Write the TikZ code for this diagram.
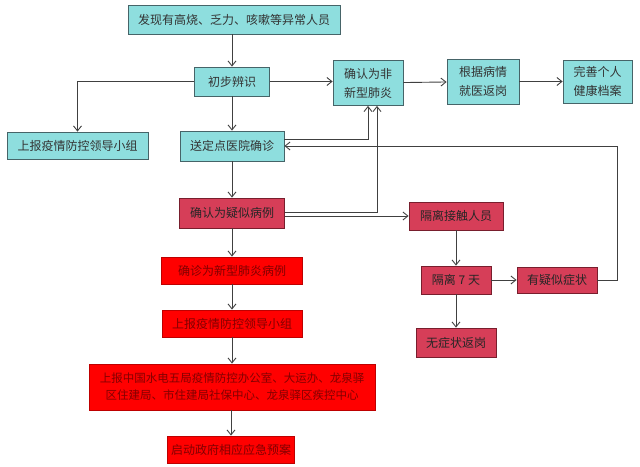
\documentclass[tikz,border=0pt]{standalone}
\usepackage{fontspec}
\newfontfamily\cjk{Noto Sans CJK SC}
\usetikzlibrary{arrows.meta}
\definecolor{cyanfill}{RGB}{142,222,222}
\definecolor{cyanline}{RGB}{70,100,104}
\definecolor{pinkfill}{RGB}{214,62,88}
\definecolor{pinkline}{RGB}{120,30,45}
\definecolor{redfill}{RGB}{255,0,0}
\definecolor{redline}{RGB}{190,0,0}
\definecolor{redtext}{RGB}{130,0,0}
\definecolor{arrowgray}{RGB}{64,64,64}

\begin{document}
\begin{tikzpicture}[x=1pt, y=-1pt,
  box/.style={draw=cyanline, fill=cyanfill, line width=0.8pt, inner sep=0pt,
    align=center, text=black!80, font=\cjk\fontsize{12}{19}\selectfont},
  pbox/.style={box, draw=pinkline, fill=pinkfill, text=black!85},
  rbox/.style={box, draw=redline, fill=redfill, text=redtext},
  arr/.style={-{Straight Barb[length=5pt,width=8pt]}, line width=0.9pt, draw=arrowgray}
]
  \useasboundingbox (0,0) rectangle (640,466);
  % top part
  \node[box, minimum width=212pt, minimum height=29pt] (found) at (234,19.5)
    {发现有高烧、乏力、咳嗽等异常人员};
  \node[box, minimum width=75pt, minimum height=29pt] (initial) at (232,81.5)
    {初步辨识};
  \node[box, minimum width=70pt, minimum height=45pt] (nonpneu) at (368,83)
    {确认为非\\新型肺炎};
  \node[box, minimum width=72pt, minimum height=45pt] (treat) at (483,81.5)
    {根据病情\\就医返岗};
  \node[box, minimum width=69pt, minimum height=43pt] (record) at (597.5,81.5)
    {完善个人\\健康档案};
  \node[box, minimum width=141pt, minimum height=27pt] (report1) at (77.5,145.5)
    {上报疫情防控领导小组};
  \node[box, minimum width=104pt, minimum height=30pt] (hospital) at (232,146)
    {送定点医院确诊};
  % suspected cases
  \node[pbox, minimum width=105pt, minimum height=30pt] (suspect) at (232,213)
    {确认为疑似病例};
  \node[pbox, minimum width=94pt, minimum height=28pt] (isolate) at (456,216)
    {隔离接触人员};
  \node[pbox, minimum width=70pt, minimum height=28pt] (seven) at (456,280)
    {隔离 7 天};
  \node[pbox, minimum width=80pt, minimum height=26pt] (symptom) at (557,280)
    {有疑似症状};
  \node[pbox, minimum width=80pt, minimum height=29pt] (noreturn) at (456,342.5)
    {无症状返岗};
  % confirmed cases
  \node[rbox, minimum width=141pt, minimum height=27pt] (confirmed) at (232,270.5)
    {确诊为新型肺炎病例};
  \node[rbox, minimum width=140pt, minimum height=27pt] (report2) at (232,323.5)
    {上报疫情防控领导小组};
  \node[rbox, minimum width=286pt, minimum height=46pt,
    font=\cjk\fontsize{11.5}{17}\selectfont] (report3) at (232,387)
    {上报中国水电五局疫情防控办公室、大运办、龙泉驿\\区住建局、市住建局社保中心、龙泉驿区疾控中心};
  \node[rbox, minimum width=127pt, minimum height=27pt] (start) at (231,449.5)
    {启动政府相应应急预案};

  \draw[arr] (found.south -| initial.north) -- (initial.north);
  \draw[arr] (initial.west) -| (report1.north);
  \draw[arr] (initial.east) -- (nonpneu.west |- initial.east);
  \draw[arr] (nonpneu) -- (treat);
  \draw[arr] (treat) -- (record);
  \draw[arr] (initial) -- (hospital);
  \draw[arr] ([yshift=7pt]hospital.east) -| (nonpneu.south);
  \draw[arr] (hospital) -- (suspect);
  \draw[arr] ([yshift=1pt]suspect.east) -| ([xshift=9pt]nonpneu.south);
  \draw[arr] ([yshift=-3pt]suspect.east) -- (isolate.west);
  \draw[arr] (isolate) -- (seven);
  \draw[arr] (seven) -- (symptom);
  \draw[arr] (seven) -- (noreturn);
  \draw[arr] (symptom.east) -- ++(20,0) |- (hospital.east);
  \draw[arr] (suspect) -- (confirmed);
  \draw[arr] (confirmed) -- (report2);
  \draw[arr] (report2) -- (report3);
  \draw[arr] (report3.south -| start.north) -- (start.north);
\end{tikzpicture}
\end{document}
